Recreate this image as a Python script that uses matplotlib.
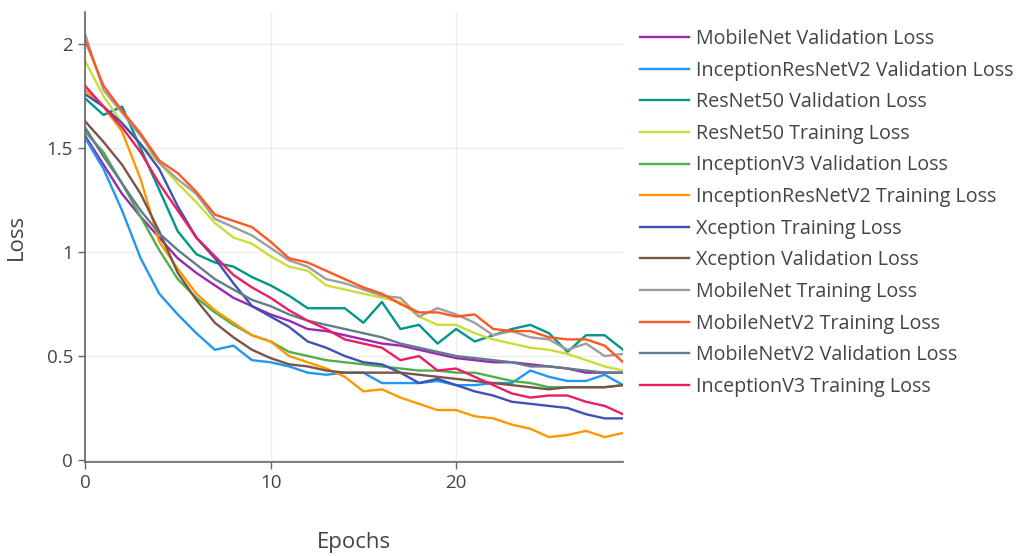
import numpy as np
import matplotlib.pyplot as plt

plt.rcParams['font.family'] = ['Open Sans', 'DejaVu Sans']

epochs = np.arange(30)

mobilenet_val = [1.56, 1.42, 1.28, 1.17, 1.07, 0.97, 0.90, 0.84, 0.78, 0.74,
                 0.70, 0.67, 0.63, 0.62, 0.60, 0.58, 0.56, 0.55, 0.53, 0.51,
                 0.49, 0.48, 0.47, 0.47, 0.46, 0.45, 0.44, 0.42, 0.42, 0.42]
incresv2_val = [1.55, 1.40, 1.20, 0.97, 0.80, 0.70, 0.61, 0.53, 0.55, 0.48,
                0.47, 0.45, 0.42, 0.41, 0.42, 0.42, 0.37, 0.37, 0.37, 0.38,
                0.36, 0.36, 0.37, 0.37, 0.43, 0.40, 0.38, 0.38, 0.41, 0.36]
resnet50_val = [1.74, 1.66, 1.70, 1.50, 1.30, 1.10, 0.99, 0.95, 0.93, 0.88,
                0.84, 0.79, 0.73, 0.73, 0.73, 0.66, 0.76, 0.63, 0.65, 0.56,
                0.63, 0.57, 0.60, 0.63, 0.65, 0.61, 0.52, 0.60, 0.60, 0.53]
resnet50_train = [1.92, 1.75, 1.62, 1.52, 1.43, 1.33, 1.24, 1.14, 1.07, 1.04,
                  0.98, 0.93, 0.91, 0.84, 0.82, 0.80, 0.78, 0.76, 0.69, 0.65,
                  0.65, 0.61, 0.58, 0.56, 0.54, 0.53, 0.51, 0.48, 0.45, 0.43]
inceptionv3_val = [1.58, 1.48, 1.33, 1.17, 1.01, 0.87, 0.78, 0.71, 0.65, 0.60,
                   0.57, 0.52, 0.50, 0.48, 0.47, 0.46, 0.45, 0.44, 0.43, 0.43,
                   0.42, 0.42, 0.40, 0.38, 0.37, 0.35, 0.35, 0.35, 0.35, 0.36]
incresv2_train = [1.78, 1.70, 1.58, 1.35, 1.05, 0.92, 0.80, 0.72, 0.66, 0.60,
                  0.57, 0.50, 0.47, 0.44, 0.40, 0.33, 0.34, 0.30, 0.27, 0.24,
                  0.24, 0.21, 0.20, 0.17, 0.15, 0.11, 0.12, 0.14, 0.11, 0.13]
xception_train = [1.76, 1.70, 1.62, 1.52, 1.40, 1.22, 1.07, 0.97, 0.85, 0.74,
                  0.69, 0.64, 0.57, 0.54, 0.50, 0.47, 0.46, 0.42, 0.37, 0.39,
                  0.36, 0.33, 0.31, 0.28, 0.27, 0.26, 0.25, 0.22, 0.20, 0.20]
xception_val = [1.63, 1.53, 1.42, 1.28, 1.10, 0.90, 0.77, 0.66, 0.59, 0.53,
                0.49, 0.46, 0.45, 0.43, 0.42, 0.42, 0.42, 0.42, 0.41, 0.40,
                0.39, 0.38, 0.37, 0.36, 0.35, 0.34, 0.35, 0.35, 0.35, 0.36]
mobilenet_train = [2.05, 1.78, 1.67, 1.56, 1.43, 1.35, 1.28, 1.16, 1.12, 1.08,
                   1.02, 0.96, 0.93, 0.87, 0.85, 0.82, 0.79, 0.78, 0.69, 0.73,
                   0.70, 0.66, 0.60, 0.62, 0.59, 0.58, 0.53, 0.56, 0.50, 0.51]
mobilenetv2_train = [2.02, 1.80, 1.68, 1.57, 1.44, 1.38, 1.29, 1.18, 1.15, 1.12,
                     1.05, 0.97, 0.95, 0.91, 0.87, 0.83, 0.80, 0.75, 0.71, 0.71,
                     0.69, 0.70, 0.63, 0.62, 0.62, 0.59, 0.58, 0.58, 0.55, 0.47]
mobilenetv2_val = [1.60, 1.46, 1.33, 1.20, 1.09, 1.01, 0.94, 0.87, 0.82, 0.77,
                   0.74, 0.70, 0.67, 0.65, 0.63, 0.61, 0.59, 0.56, 0.54, 0.52,
                   0.50, 0.49, 0.48, 0.47, 0.45, 0.45, 0.44, 0.43, 0.42, 0.42]
inceptionv3_train = [1.80, 1.70, 1.60, 1.48, 1.33, 1.20, 1.07, 0.98, 0.89, 0.83,
                     0.78, 0.72, 0.67, 0.63, 0.58, 0.56, 0.54, 0.48, 0.50, 0.43,
                     0.44, 0.40, 0.36, 0.32, 0.30, 0.31, 0.31, 0.28, 0.26, 0.22]

series = [
    ('MobileNet Validation Loss', mobilenet_val, '#9C27B0'),
    ('InceptionResNetV2 Validation Loss', incresv2_val, '#2196F3'),
    ('ResNet50 Validation Loss', resnet50_val, '#009688'),
    ('ResNet50 Training Loss', resnet50_train, '#CDDC39'),
    ('InceptionV3 Validation Loss', inceptionv3_val, '#4CAF50'),
    ('InceptionResNetV2 Training Loss', incresv2_train, '#FF9800'),
    ('Xception Training Loss', xception_train, '#3F51B5'),
    ('Xception Validation Loss', xception_val, '#795548'),
    ('MobileNet Training Loss', mobilenet_train, '#9E9E9E'),
    ('MobileNetV2 Training Loss', mobilenetv2_train, '#FF5722'),
    ('MobileNetV2 Validation Loss', mobilenetv2_val, '#607D8B'),
    ('InceptionV3 Training Loss', inceptionv3_train, '#E91E63'),
]

fig = plt.figure(figsize=(10.3, 5.56), dpi=100)
ax = fig.add_axes([0.0825, 0.169, 0.5225, 0.809])

for name, vals, color in series:
    ax.plot(epochs, vals, color=color, lw=1.7, label=name)

ax.set_xlim(0, 29)
ax.set_ylim(-0.01, 2.154)
ax.set_xticks([0, 10, 20])
ax.set_yticks([0, 0.5, 1, 1.5, 2])
ax.set_yticklabels(['0', '0.5', '1', '1.5', '2'])
ax.grid(True, color='#eeeeee', lw=1)
ax.set_axisbelow(True)
for s in ['top', 'right']:
    ax.spines[s].set_visible(False)
for s in ['left', 'bottom']:
    ax.spines[s].set_color('#666666')
    ax.spines[s].set_linewidth(1.2)
ax.tick_params(colors='#444444', labelsize=13.5, length=5, width=1, direction='out')
ax.tick_params(axis='both', color='#666666')
ax.set_xlabel('Epochs', fontsize=16, color='#444444', labelpad=29)
ax.set_ylabel('Loss', fontsize=16, color='#444444', labelpad=14)

fig.legend(loc='upper left', bbox_to_anchor=(0.621, 0.948), frameon=False,
           fontsize=14.2, handlelength=2.5, handletextpad=0.35,
           labelspacing=0.59, borderpad=0, borderaxespad=0,
           labelcolor='#444444')

fig.savefig('out.png', dpi=100)
